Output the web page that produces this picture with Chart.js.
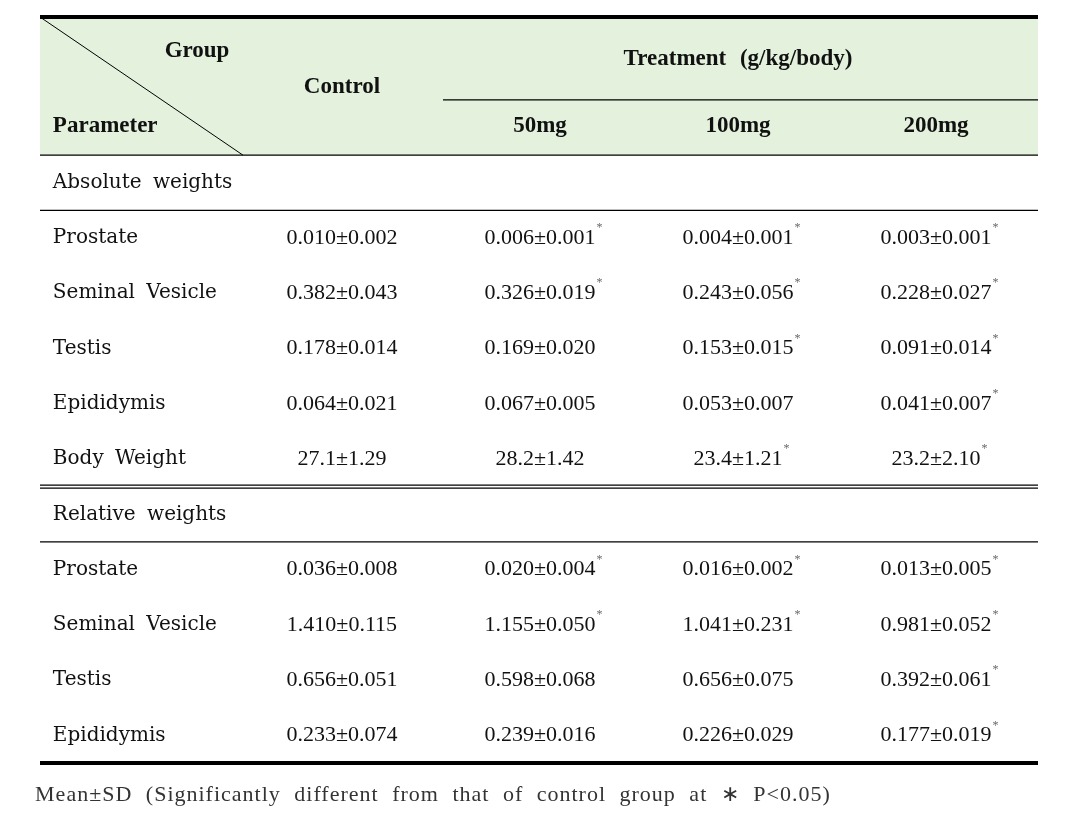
<!DOCTYPE html>
<html lang="en">
<head>
    <meta charset="UTF-8">
    <title>Organ weights</title>
    <style>
        body {
            margin: 0;
            background: #ffffff;
        }
        #tableChart {
            display: block;
        }
    </style>
    <script src="https://cdn.jsdelivr.net/npm/chart.js"></script>
</head>
<body>
    <canvas id="tableChart" width="1070" height="820"></canvas>

    <script>
        // table content; a trailing * marks a significant difference
        const groups = ['Control', '50mg', '100mg', '200mg'];
        const sections = ['Absolute weights', 'Relative weights'];
        const absParams = ['Prostate', 'Seminal Vesicle', 'Testis', 'Epididymis', 'Body Weight'];
        const relParams = ['Prostate', 'Seminal Vesicle', 'Testis', 'Epididymis'];

        const absControl = ['0.010±0.002', '0.382±0.043', '0.178±0.014', '0.064±0.021', '27.1±1.29'];
        const abs50 = ['0.006±0.001*', '0.326±0.019*', '0.169±0.020', '0.067±0.005', '28.2±1.42'];
        const abs100 = ['0.004±0.001*', '0.243±0.056*', '0.153±0.015*', '0.053±0.007', '23.4±1.21*'];
        const abs200 = ['0.003±0.001*', '0.228±0.027*', '0.091±0.014*', '0.041±0.007*', '23.2±2.10*'];

        const relControl = ['0.036±0.008', '1.410±0.115', '0.656±0.051', '0.233±0.074'];
        const rel50 = ['0.020±0.004*', '1.155±0.050*', '0.598±0.068', '0.239±0.016'];
        const rel100 = ['0.016±0.002*', '1.041±0.231*', '0.656±0.075', '0.226±0.029'];
        const rel200 = ['0.013±0.005*', '0.981±0.052*', '0.392±0.061*', '0.177±0.019*'];

        const headerTitle = 'Treatment (g/kg/body)';
        const footnote = 'Mean±SD (Significantly different from that of control group at \u2217 P<0.05)';

        // x: column index (Control = 0), y: row index (Absolute weights = 0)
        const X_MIN = -1.525, X_MAX = 3.515;
        const Y_MIN = -3, Y_MAX = 10.5;
        const LABEL_X = -1.46;

        const columns = [
            absControl.concat(relControl),
            abs50.concat(rel50),
            abs100.concat(rel100),
            abs200.concat(rel200)
        ];
        const paramRows = absParams.map((p, i) => ({ name: p, y: i + 1 }))
            .concat(relParams.map((p, i) => ({ name: p, y: absParams.length + 2 + i })));
        const sectionRows = [0, absParams.length + 1];

        const labelData = sections.map((s, i) => ({ x: LABEL_X, y: sectionRows[i], text: s }))
            .concat(paramRows.map(r => ({ x: LABEL_X, y: r.y, text: r.name })));

        const datasets = [{
            label: 'Parameter',
            data: labelData,
            pointRadius: 0,
            kind: 'label'
        }];
        groups.forEach((g, gi) => {
            datasets.push({
                label: g,
                data: columns[gi].map((v, i) => ({ x: gi, y: paramRows[i].y, text: v })),
                pointRadius: 0,
                kind: 'value'
            });
        });

        const labelFont = '20px "DejaVu Serif"';
        const valueFont = '22px "Liberation Serif"';
        const headFont = 'bold 23px "Liberation Serif"';

        const tablePlugin = {
            id: 'tablePlugin',
            beforeDatasetsDraw(chart) {
                const ctx = chart.ctx;
                const xs = chart.scales.x, ys = chart.scales.y;
                ctx.save();
                ctx.fillStyle = '#e3f1dd';
                const top = ys.getPixelForValue(Y_MIN);
                const hb = ys.getPixelForValue(-0.5);
                ctx.fillRect(xs.getPixelForValue(X_MIN), top, xs.getPixelForValue(X_MAX) - xs.getPixelForValue(X_MIN), hb - top);
                ctx.restore();
            },
            afterDatasetsDraw(chart) {
                const ctx = chart.ctx;
                const xs = chart.scales.x, ys = chart.scales.y;
                const px = v => xs.getPixelForValue(v);
                const py = v => ys.getPixelForValue(v);
                ctx.save();

                function hline(y, x0, x1, w, dy) {
                    ctx.beginPath();
                    ctx.lineWidth = w;
                    ctx.strokeStyle = '#000';
                    ctx.moveTo(px(x0), py(y) + (dy || 0));
                    ctx.lineTo(px(x1), py(y) + (dy || 0));
                    ctx.stroke();
                }
                hline(Y_MIN, X_MIN, X_MAX, 4, 0);
                hline(-1.5, 0.51, X_MAX, 1.2, 0);
                hline(-0.5, X_MIN, X_MAX, 1.2, 0);
                hline(0.5, X_MIN, X_MAX, 1.2, 0);
                hline(5.5, X_MIN, X_MAX, 1.2, -1.5);
                hline(5.5, X_MIN, X_MAX, 1.2, 1.5);
                hline(6.5, X_MIN, X_MAX, 1.2, 0);
                hline(Y_MAX, X_MIN, X_MAX, 4, 0);

                // diagonal header cell
                ctx.beginPath();
                ctx.lineWidth = 1;
                ctx.moveTo(px(X_MIN), py(Y_MIN));
                ctx.lineTo(px(-0.5), py(-0.5));
                ctx.stroke();

                // header text
                ctx.fillStyle = '#111';
                ctx.font = headFont;
                ctx.textBaseline = 'middle';
                ctx.textAlign = 'center';
                ctx.fillText('Group', px(-0.732), py(-2.39));
                ctx.fillText(groups[0], px(0), py(-1.74));
                ctx.wordSpacing = '8px';
                ctx.fillText(headerTitle, px(2), py(-2.24));
                ctx.wordSpacing = '0px';
                for (let g = 1; g < groups.length; g++) {
                    ctx.fillText(groups[g], px(g), py(-1.03));
                }
                ctx.textAlign = 'left';
                ctx.fillText('Parameter', px(LABEL_X), py(-1.03));

                // body cells
                chart.data.datasets.forEach((ds, di) => {
                    const meta = chart.getDatasetMeta(di);
                    meta.data.forEach((pt, i) => {
                        const item = ds.data[i];
                        if (ds.kind === 'label') {
                            ctx.font = labelFont;
                            ctx.textAlign = 'left';
                            ctx.wordSpacing = '5px';
                            ctx.fillStyle = '#111';
                            ctx.fillText(item.text, pt.x, pt.y);
                            ctx.wordSpacing = '0px';
                        } else {
                            const sig = item.text.endsWith('*');
                            const txt = sig ? item.text.slice(0, -1) : item.text;
                            ctx.font = valueFont;
                            ctx.textAlign = 'center';
                            ctx.fillStyle = '#111';
                            ctx.fillText(txt, pt.x, pt.y);
                            if (sig) {
                                const w = ctx.measureText(txt).width;
                                ctx.font = '12px "Liberation Serif"';
                                ctx.textAlign = 'left';
                                ctx.fillStyle = '#666';
                                ctx.fillText('*', pt.x + w / 2 + 1, pt.y - 10);
                            }
                        }
                    });
                });

                // footnote
                ctx.font = '22px "Liberation Serif"';
                ctx.textAlign = 'left';
                ctx.fillStyle = '#333';
                ctx.letterSpacing = '1px';
                ctx.wordSpacing = '7px';
                ctx.fillText(footnote, px(-1.55), py(11.09));
                ctx.restore();
            }
        };

        new Chart(document.getElementById('tableChart').getContext('2d'), {
            type: 'scatter',
            data: { datasets: datasets },
            options: {
                responsive: false,
                animation: false,
                events: [],
                layout: { padding: { left: 40, right: 32, top: 17, bottom: 57 } },
                plugins: {
                    legend: { display: false },
                    tooltip: { enabled: false },
                    title: { display: false }
                },
                scales: {
                    x: { type: 'linear', min: X_MIN, max: X_MAX, display: false },
                    y: { type: 'linear', min: Y_MIN, max: Y_MAX, reverse: true, display: false }
                }
            },
            plugins: [tablePlugin]
        });
    </script>
</body>
</html>
